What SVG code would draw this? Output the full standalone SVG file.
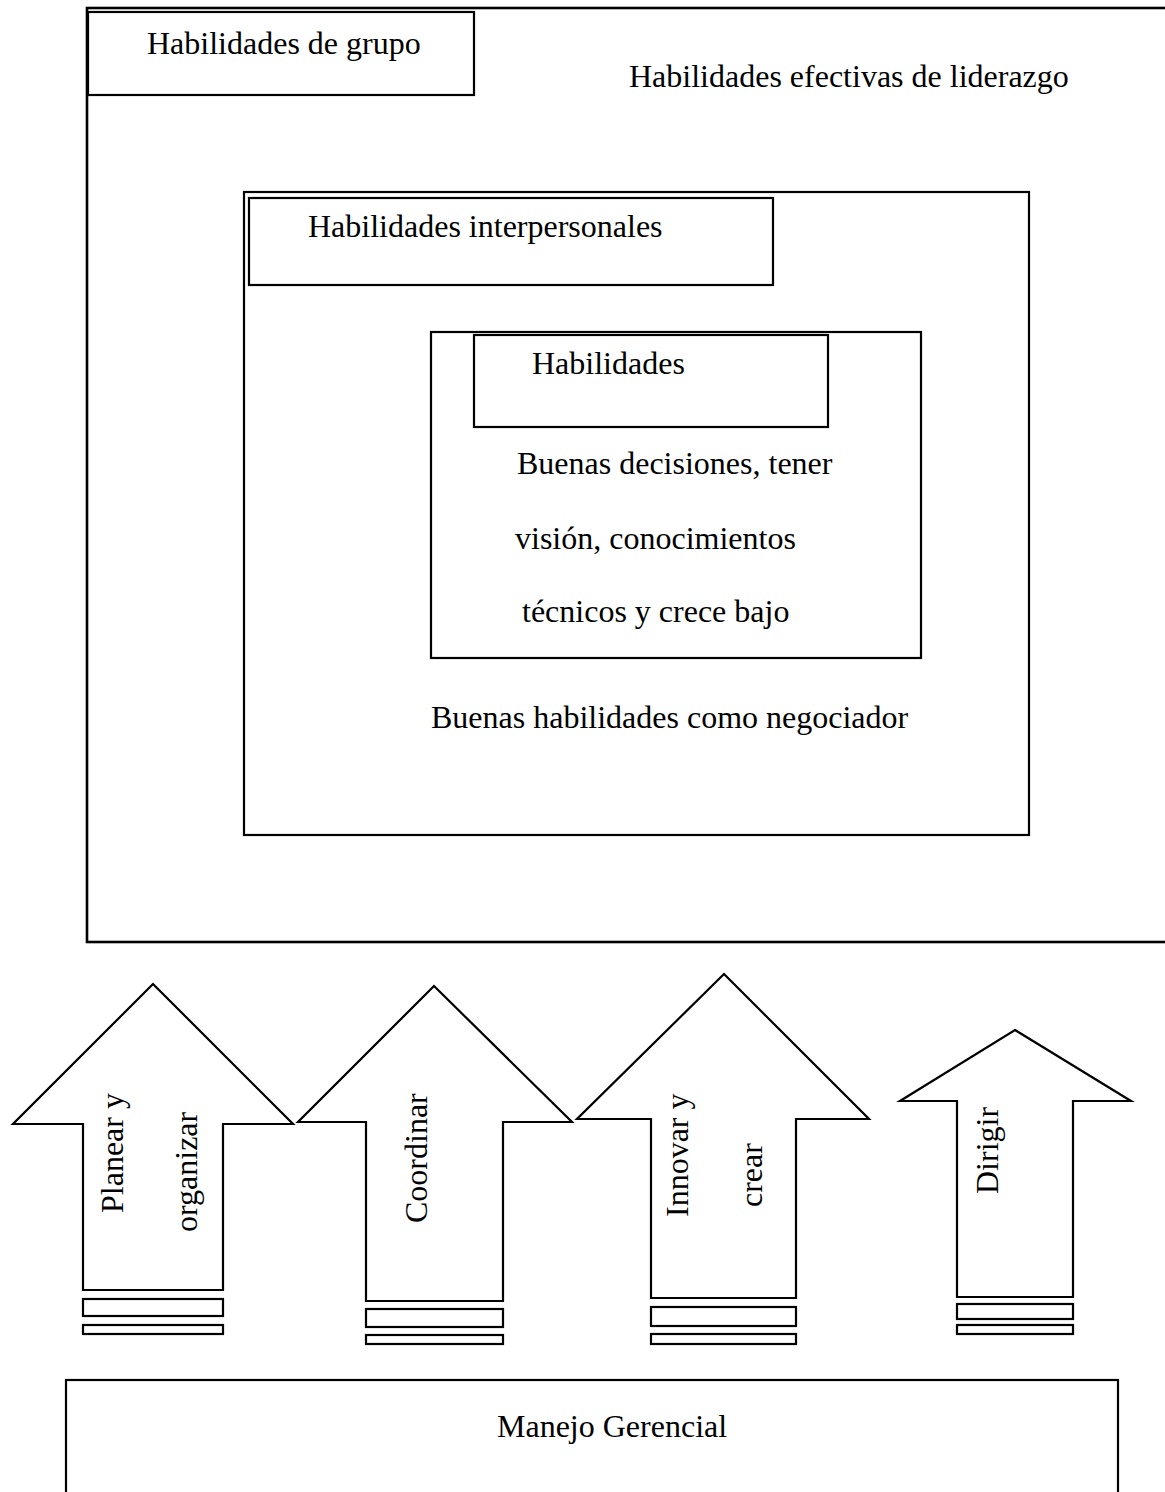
<svg xmlns="http://www.w3.org/2000/svg" width="1165" height="1492" viewBox="0 0 1165 1492">
  <style>
    .box { fill: none; stroke: #000; stroke-width: 2.2; }
    .outer { fill: none; stroke: #000; stroke-width: 2.6; }
    .arrow { fill: #fff; stroke: #000; stroke-width: 2.2; stroke-linejoin: miter; }
    .bar { fill: #fff; stroke: #000; stroke-width: 2.2; }
    text { font-family: "Liberation Serif", "Times New Roman", serif; font-size: 32px; fill: #000; }
  </style>
  <rect width="1165" height="1492" fill="#fff"/>

  <!-- nested skill frames -->
  <g id="habilidades-efectivas">
    <rect class="outer" x="87" y="8" width="1090" height="934"/>
    <text x="629" y="87">Habilidades efectivas de liderazgo</text>
  </g>
  <g id="habilidades-grupo">
    <rect class="box" x="88" y="12" width="386" height="83"/>
    <text x="147" y="54">Habilidades de grupo</text>
  </g>
  <g id="marco-interpersonal">
    <rect class="box" x="244" y="192" width="785" height="643"/>
    <text x="431" y="728">Buenas habilidades como negociador</text>
  </g>
  <g id="habilidades-interpersonales">
    <rect class="box" x="249" y="198" width="524" height="87"/>
    <text x="308" y="237">Habilidades interpersonales</text>
  </g>
  <g id="marco-habilidades">
    <rect class="box" x="431" y="332" width="490" height="326"/>
    <text x="517" y="474">Buenas decisiones, tener</text>
    <text x="515" y="549">visión, conocimientos</text>
    <text x="522" y="622">técnicos y crece bajo</text>
  </g>
  <g id="habilidades">
    <rect class="box" x="474" y="335" width="354" height="92"/>
    <text x="532" y="374">Habilidades</text>
  </g>

  <!-- upward arrows -->
  <g id="flecha-planear">
    <polygon class="arrow" points="153,984 293,1124 223,1124 223,1290 83,1290 83,1124 13,1124"/>
    <rect class="bar" x="83" y="1299" width="140" height="17"/>
    <rect class="bar" x="83" y="1325" width="140" height="9"/>
    <text transform="translate(123,1213) rotate(-90)">Planear y</text>
    <text transform="translate(197,1232) rotate(-90)">organizar</text>
  </g>
  <g id="flecha-coordinar">
    <polygon class="arrow" points="434,986 572,1122 503,1122 503,1301 366,1301 366,1122 298,1122"/>
    <rect class="bar" x="366" y="1309" width="137" height="18"/>
    <rect class="bar" x="366" y="1335" width="137" height="9"/>
    <text transform="translate(427,1223) rotate(-90)">Coordinar</text>
  </g>
  <g id="flecha-innovar">
    <polygon class="arrow" points="724,974 869,1119 796,1119 796,1298 651,1298 651,1119 577,1119"/>
    <rect class="bar" x="651" y="1307" width="145" height="19"/>
    <rect class="bar" x="651" y="1334" width="145" height="10"/>
    <text transform="translate(688,1217) rotate(-90)">Innovar y</text>
    <text transform="translate(762,1207) rotate(-90)">crear</text>
  </g>
  <g id="flecha-dirigir">
    <polygon class="arrow" points="1015,1030 1131,1101 1073,1101 1073,1297 957,1297 957,1101 900,1101"/>
    <rect class="bar" x="957" y="1304" width="116" height="15"/>
    <rect class="bar" x="957" y="1325" width="116" height="9"/>
    <text transform="translate(998,1194) rotate(-90)">Dirigir</text>
  </g>

  <g id="manejo-gerencial">
    <rect class="box" x="66" y="1380" width="1052" height="130"/>
    <text x="497" y="1437">Manejo Gerencial</text>
  </g>

  <g id="conectores"/>
</svg>
